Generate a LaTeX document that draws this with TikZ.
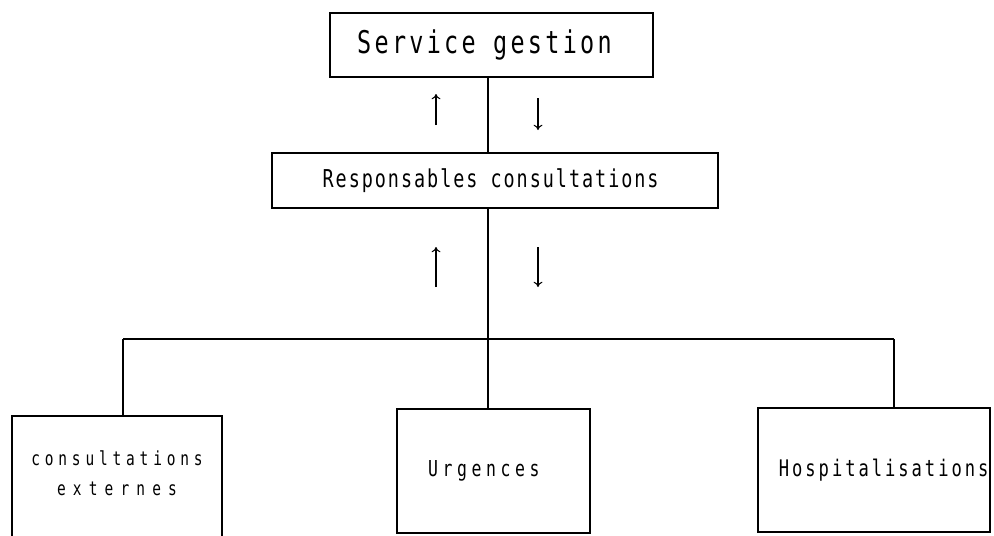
\documentclass[tikz,border=0pt]{standalone}
\usepackage{fontspec}
\usetikzlibrary{arrows.meta}
\newfontfamily\dotfont[FakeStretch=0.75]{DejaVu Sans Mono}
\newcommand\dotsize[2]{\dotfont\fontsize{#1}{#1}\selectfont\addfontfeature{LetterSpace=#2}}
\tikzset{>={To[length=3pt, width=5pt]}}
\tikzset{box/.style={draw, line width=0.7pt, inner sep=0pt}}

\begin{document}
\begin{tikzpicture}[x=0.02cm, y=-0.02cm]
\useasboundingbox (0,0) rectangle (994,535);
\clip (0,0) rectangle (994,535);
\node[box, minimum width=6.46cm, minimum height=1.28cm, font=\dotsize{17.8}{10.5}] (gestion) at (491.5,45) {Service gestion\hspace*{8pt}};
\node[box, minimum width=8.92cm, minimum height=1.1cm, font=\dotsize{14}{8}] (resp) at (495,180.5) {Responsables consultations\hspace*{5pt}};
\node[box, minimum width=4.2cm, minimum height=2.58cm] (ext) at (117,480.5) {};
\node[align=center, font=\dotsize{11}{25}] (extlbl) at (117,473) {consultations\\[6pt]{\addfontfeature{LetterSpace=37}externes}};
\node[box, minimum width=3.86cm, minimum height=2.48cm, font=\dotsize{12.5}{21}] (urg) at (493.5,471) {Urgences\hspace*{11pt}};
\node[box, minimum width=4.64cm, minimum height=2.48cm, font=\dotsize{13}{13}] (hosp) at (874,470) {\hspace*{11pt}Hospitalisations};
\coordinate (spine) at (488,0);
\coordinate (busL) at (123,339);
\coordinate (busR) at (894,339);
\draw[line width=0.9pt] (gestion.south -| spine) -- (resp.north -| spine);
\draw[line width=0.9pt] (resp.south -| spine) -- (urg.north -| spine);
\draw[line width=0.6pt] (busL) -- (busR);
\draw[line width=0.8pt] (busL) -- (busL |- ext.north);
\draw[line width=0.8pt] (busR) -- (busR |- hosp.north);
\foreach \ya/\yb in {125/94, 287/247}
\draw[->, line width=0.6pt] (436,\ya) -- (436,\yb);
\foreach \ya/\yb in {98/130, 247/287}
\draw[->, line width=0.6pt] (538,\ya) -- (538,\yb);
\end{tikzpicture}
\end{document}
